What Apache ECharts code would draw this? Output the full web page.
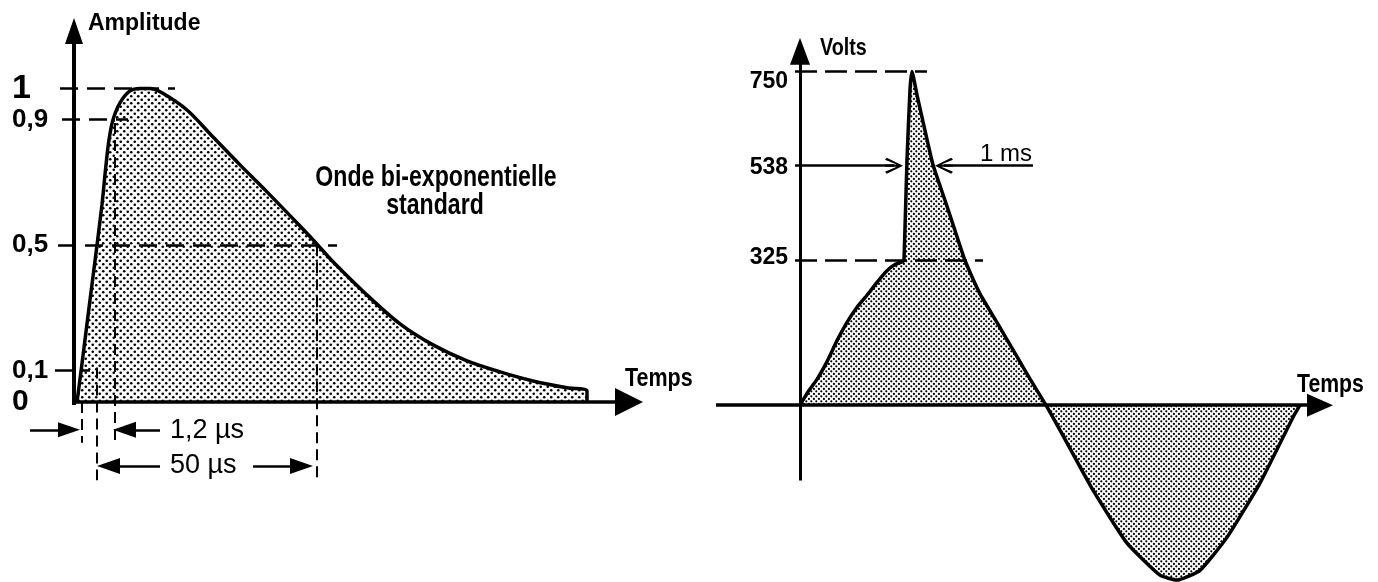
<!DOCTYPE html>
<html>
<head>
<meta charset="utf-8">
<title>Ondes de choc</title>
<script src="https://cdn.jsdelivr.net/npm/echarts@6/dist/echarts.min.js"></script>
<style>
  html, body { margin: 0; padding: 0; background: #fff; }
  #main { width: 1378px; height: 582px; }
</style>
</head>
<body>
<div id="main"></div>
<script>
// onde bi-exponentielle standard (temps relatif, amplitude normalisee)
const biexpTime = [0.6, 1.5, 3.2, 4.6, 5.6, 6.4, 7.0, 7.8, 9.2, 11.2, 13.2, 15.2, 17.6, 22.6, 27.8, 33.2,
  38.6, 45.2, 48.8, 51.8, 58.6, 65.2, 71.8, 78.6, 85.2, 91.8, 98.6, 102.6, 102.6];
const biexpAmplitude = [0, 0.11, 0.325, 0.5, 0.63, 0.756, 0.836, 0.9, 0.954, 0.992, 1.0, 1.0, 0.986, 0.931, 0.845, 0.756,
  0.67, 0.561, 0.5, 0.447, 0.341, 0.249, 0.182, 0.131, 0.096, 0.067, 0.045, 0.035, 0];
const amplitudeTicks = [0, 0.1, 0.5, 0.9, 1];
const amplitudeLabels = ['0', '0,1', '0,5', '0,9', '1'];

// tension secteur avec surtension (ms, V)
const mainsTime = [0, 0.32, 0.68, 1.08, 1.48, 1.88, 2.28, 2.68, 3.08, 3.48, 3.8, 4.12, 4.16, 4.28, 4.4, 4.48,
  4.68, 4.92, 5.32, 5.88, 6.4, 6.6, 7.2, 7.88, 8.68, 9.2, 9.84,
  10.4, 11.72, 13.08, 14.4, 15.08, 16.0, 17.08, 18.4, 19.72, 20];
const mainsVolts = [0, 30, 58, 98, 145, 186, 220, 247, 276, 302, 316, 323, 325, 552, 709, 750,
  697, 637, 540, 447, 358, 325, 250, 186, 109, 59, 0,
  -56, -191, -310, -382, -393, -371, -297, -175, -27, 0];
const voltTicks = [325, 538, 750];

const INK = '#000';
const FONT = '"Liberation Sans", Arial, sans-serif';

const pairs = (xs, ys) => xs.map((x, i) => [x, ys[i]]);

// trame pointillee du remplissage
function dots(step, r) {
  const c = document.createElement('canvas');
  c.width = step * 2;
  c.height = step * 2;
  const g = c.getContext('2d');
  g.fillStyle = '#fff';
  g.fillRect(0, 0, c.width, c.height);
  g.fillStyle = INK;
  [[step / 2, step / 2], [step * 1.5, step * 1.5]].forEach(([x, y]) => {
    g.beginPath();
    g.arc(x, y, r, 0, Math.PI * 2);
    g.fill();
  });
  return c;
}

const solid = (w) => ({ color: INK, width: w, type: 'solid' });
const dashH = { color: INK, width: 2.5, type: [18, 9] };
const dashV = { color: INK, width: 2, type: [11, 6] };
const chevron = 'path://M5,0 L10,9 L8.8,10 L5.7,3.5 L5.7,10 L4.3,10 L4.3,3.5 L1.2,10 L0,9 Z';

function seg(from, to, lineStyle, toSymbol, toSize) {
  return [
    { coord: from, symbol: 'none', lineStyle: lineStyle },
    { coord: to, symbol: toSymbol || 'none', symbolSize: toSize || 0 }
  ];
}

const leftMarks = [
  seg([0, -0.01], [0, 1.183], solid(4), 'triangle', [18, 26]),
  seg([0, 0], [111, 0], solid(3.5), 'triangle', [28, 28]),
  seg([-2.8, 1], [20.2, 1], dashH),
  seg([-2.4, 0.9], [10.8, 0.9], dashH),
  seg([-3.2, 0.5], [52.6, 0.5], dashH),
  seg([-3.8, 0.1], [3.2, 0.1], dashH),
  seg([4.6, 0.11], [4.6, -0.25], dashV),
  seg([8.2, 0.89], [8.2, -0.13], dashV),
  seg([48.6, 0.5], [48.6, -0.24], dashV),
  seg([1.6, 0], [1.6, -0.13], dashV),
  seg([-8.8, -0.089], [-1.0, -0.089], solid(2.5), 'triangle', [15, 22]),
  seg([17.2, -0.089], [10.1, -0.089], solid(2.5), 'triangle', [16, 23]),
  seg([17.2, -0.204], [6.9, -0.204], solid(2.5), 'triangle', [16, 23]),
  seg([35.8, -0.204], [45.5, -0.204], solid(2.5), 'triangle', [16, 23])
];

const rightMarks = [
  seg([0, -169], [0, 795], solid(3), 'triangle', [20, 27]),
  seg([-3.36, 0], [20.8, 0], solid(3.5), 'triangle', [23, 26]),
  seg([-0.2, 750], [5.08, 750], { color: INK, width: 2.5, type: [22, 8] }),
  seg([-0.2, 325], [7.32, 325], { color: INK, width: 2.5, type: [22, 8] }),
  seg([-0.2, 538], [3.76, 538], solid(2.5), chevron, [16, 18]),
  seg([9.32, 538], [5.76, 538], solid(2.5), chevron, [16, 18])
];

const hidden = { show: false };
const markLineBase = {
  silent: true,
  symbol: ['none', 'none'],
  label: { show: false },
  emphasis: { disabled: true },
  animation: false
};

const chart = echarts.init(document.getElementById('main'), null, { renderer: 'canvas' });

const option = {
  backgroundColor: '#fff',
  animation: false,
  grid: [
    { left: 14, width: 640, top: 10, height: 486, containLabel: false, outerBoundsMode: 'none' },
    { left: 700, width: 675, top: 38, height: 543, containLabel: false, outerBoundsMode: 'none' }
  ],
  xAxis: [
    { gridIndex: 0, type: 'value', min: -12, max: 116, axisLine: hidden,
      axisTick: hidden, axisLabel: hidden, splitLine: hidden },
    { gridIndex: 1, type: 'value', min: -4, max: 23, axisLine: hidden,
      axisTick: hidden, axisLabel: hidden, splitLine: hidden }
  ],
  yAxis: [
    {
      gridIndex: 0, type: 'value', min: -0.3, max: 1.25, offset: -60,
      axisLine: { show: false, onZero: false }, axisTick: hidden, splitLine: hidden,
      axisLabel: {
        customValues: amplitudeTicks,
        align: 'left',
        margin: 62,
        color: INK,
        formatter: (v) => {
          const t = amplitudeLabels[amplitudeTicks.indexOf(v)];
          const k = t === '1' ? 'one' : (t === '0' ? 'zero' : 'dec');
          return '{' + k + '|' + t + '}';
        },
        rich: {
          one: { fontSize: 34, fontWeight: 'bold', fontFamily: FONT, color: INK },
          zero: { fontSize: 30, fontWeight: 'bold', fontFamily: FONT, color: INK },
          dec: { fontSize: 26, fontWeight: 'bold', fontFamily: FONT, color: INK }
        }
      }
    },
    {
      gridIndex: 1, type: 'value', min: -395, max: 825, offset: -100,
      axisLine: { show: false, onZero: false }, axisTick: hidden, splitLine: hidden,
      axisLabel: {
        customValues: voltTicks,
        align: 'right',
        margin: 12,
        color: INK,
        formatter: (v) => {
          const k = v === 750 ? 'top' : (v === 325 ? 'low' : 'mid');
          return '{' + k + '|' + v + '}';
        },
        rich: {
          top: { fontSize: 23, fontWeight: 'bold', fontFamily: FONT, color: INK, padding: [20, 0, 0, 0] },
          mid: { fontSize: 23, fontWeight: 'bold', fontFamily: FONT, color: INK, padding: [4, 0, 0, 0] },
          low: { fontSize: 23, fontWeight: 'bold', fontFamily: FONT, color: INK, padding: [0, 0, 6, 0] }
        }
      }
    }
  ],
  series: [
    {
      name: 'Onde bi-exponentielle',
      type: 'line',
      xAxisIndex: 0,
      yAxisIndex: 0,
      data: pairs(biexpTime, biexpAmplitude),
      smooth: 0.3,
      symbol: 'none',
      silent: true,
      lineStyle: { color: INK, width: 3.5 },
      areaStyle: { color: { image: dots(3.5, 1.3), repeat: 'repeat' }, opacity: 1 },
      markLine: Object.assign({ data: leftMarks }, markLineBase)
    },
    {
      name: 'Volts',
      type: 'line',
      xAxisIndex: 1,
      yAxisIndex: 1,
      data: pairs(mainsTime, mainsVolts),
      smooth: 0.15,
      symbol: 'none',
      silent: true,
      lineStyle: { color: INK, width: 3.5 },
      areaStyle: { color: { image: dots(2.6, 1.1), repeat: 'repeat' }, opacity: 1 },
      markLine: Object.assign({ data: rightMarks }, markLineBase)
    }
  ],
  graphic: [
    { type: 'text', x: 88, y: 24, style: { text: 'Amplitude', font: 'bold 23px ' + FONT, fill: INK, verticalAlign: 'middle' } },
    { type: 'text', x: 436, y: 178, scaleX: 0.77, style: { text: 'Onde bi-exponentielle', font: 'bold 30px ' + FONT, fill: INK, align: 'center', verticalAlign: 'middle' } },
    { type: 'text', x: 435, y: 206, scaleX: 0.77, style: { text: 'standard', font: 'bold 30px ' + FONT, fill: INK, align: 'center', verticalAlign: 'middle' } },
    { type: 'text', x: 625, y: 379, scaleX: 0.86, style: { text: 'Temps', font: 'bold 25px ' + FONT, fill: INK, verticalAlign: 'middle' } },
    { type: 'text', x: 170, y: 431, style: { text: '1,2 µs', font: '27px ' + FONT, fill: INK, verticalAlign: 'middle' } },
    { type: 'text', x: 170, y: 466, style: { text: '50 µs', font: '27px ' + FONT, fill: INK, verticalAlign: 'middle' } },
    { type: 'text', x: 820, y: 48, scaleX: 0.82, style: { text: 'Volts', font: 'bold 24px ' + FONT, fill: INK, verticalAlign: 'middle' } },
    { type: 'text', x: 980, y: 154, style: { text: '1 ms', font: '24px ' + FONT, fill: INK, verticalAlign: 'middle' } },
    { type: 'text', x: 1297, y: 385, scaleX: 0.85, style: { text: 'Temps', font: 'bold 25px ' + FONT, fill: INK, verticalAlign: 'middle' } }
  ]
};

chart.setOption(option);
</script>
</body>
</html>
